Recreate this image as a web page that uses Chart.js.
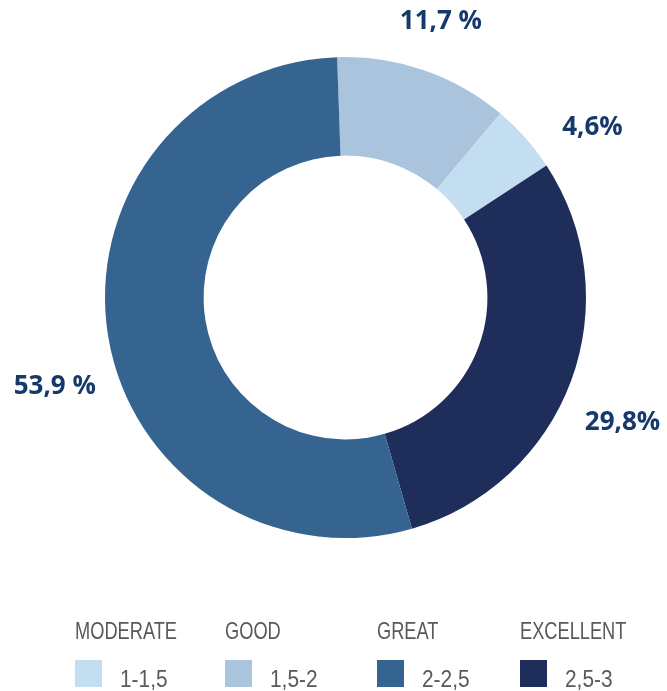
<!DOCTYPE html>
<html>
<head>
<meta charset="utf-8">
<script src="https://cdn.jsdelivr.net/npm/chart.js@4.4.1/dist/chart.umd.min.js"></script>
<style>
  html, body { margin: 0; padding: 0; background: #fff; }
  #wrap { position: relative; width: 667px; height: 691px; overflow: hidden; }
  #c { position: absolute; left: 0; top: 0; }
  .lg { position: absolute; font-family: "Liberation Sans", Arial, sans-serif; color: #58595b; white-space: nowrap; }
  .lg .name { position: absolute; left: 0; top: 618.7px; font-size: 24px; line-height: 24px; transform: scaleX(0.76); transform-origin: 0 0; }
  .lg .sw { position: absolute; left: 0; top: 660px; width: 27px; height: 27px; }
  .lg .rng { position: absolute; left: 45px; top: 666.7px; font-size: 24px; line-height: 24px; transform: scaleX(0.87); transform-origin: 0 0; }
</style>
</head>
<body>
<div id="wrap">
  <canvas id="c" width="667" height="691"></canvas>
</div>
<script>
// Data in drawing order (clockwise from top)
const categories = ["GOOD", "MODERATE", "EXCELLENT", "GREAT"];
const ranges = ["1,5-2", "1-1,5", "2,5-3", "2-2,5"];
const values = [11.7, 4.6, 29.8, 53.9];
const valueLabels = ["11,7 %", "4,6%", "29,8%", "53,9 %"];
const colors = ["#aac4dd", "#c2def0", "#1e2d5a", "#356491"];

// Legend order
const legendOrder = ["MODERATE", "GOOD", "GREAT", "EXCELLENT"];
const legendX = [75, 225, 377, 520];

// Label placement (angle shift in degrees, distance from centre in px)
const labelShift = [0, 7, 4, -8];
const labelDist = [292, 300, 304, 304];

const labelPlugin = {
  id: 'outLabels',
  afterDatasetsDraw(chart) {
    const ctx = chart.ctx;
    const meta = chart.getDatasetMeta(0);
    ctx.save();
    ctx.font = '700 26px "Open Sans", sans-serif';
    ctx.fillStyle = '#15396b';
    ctx.textAlign = 'center';
    ctx.textBaseline = 'middle';
    meta.data.forEach((arc, i) => {
      const p = arc.getProps(['x', 'y', 'startAngle', 'endAngle'], true);
      const mid = (p.startAngle + p.endAngle) / 2 + labelShift[i] * Math.PI / 180;
      const x = p.x + Math.cos(mid) * labelDist[i];
      const y = p.y + Math.sin(mid) * labelDist[i];
      ctx.fillText(valueLabels[i], x, y);
    });
    ctx.restore();
  }
};

new Chart(document.getElementById('c'), {
  type: 'doughnut',
  data: {
    labels: categories,
    datasets: [{
      data: values,
      backgroundColor: colors,
      borderWidth: 0,
      hoverOffset: 0
    }]
  },
  options: {
    responsive: false,
    animation: false,
    cutout: '59%',
    rotation: -2,
    layout: { padding: { left: 105, right: 81, top: 57, bottom: 153 } },
    plugins: { legend: { display: false }, tooltip: { enabled: false } }
  },
  plugins: [labelPlugin]
});

// HTML legend
const wrap = document.getElementById('wrap');
legendOrder.forEach((name, k) => {
  const i = categories.indexOf(name);
  const d = document.createElement('div');
  d.className = 'lg';
  d.style.left = legendX[k] + 'px';
  d.style.top = '0px';
  d.innerHTML = '<div class="name">' + name + '</div>' +
    '<div class="sw" style="background:' + colors[i] + '"></div>' +
    '<div class="rng">' + ranges[i] + '</div>';
  wrap.appendChild(d);
});
</script>
</body>
</html>
